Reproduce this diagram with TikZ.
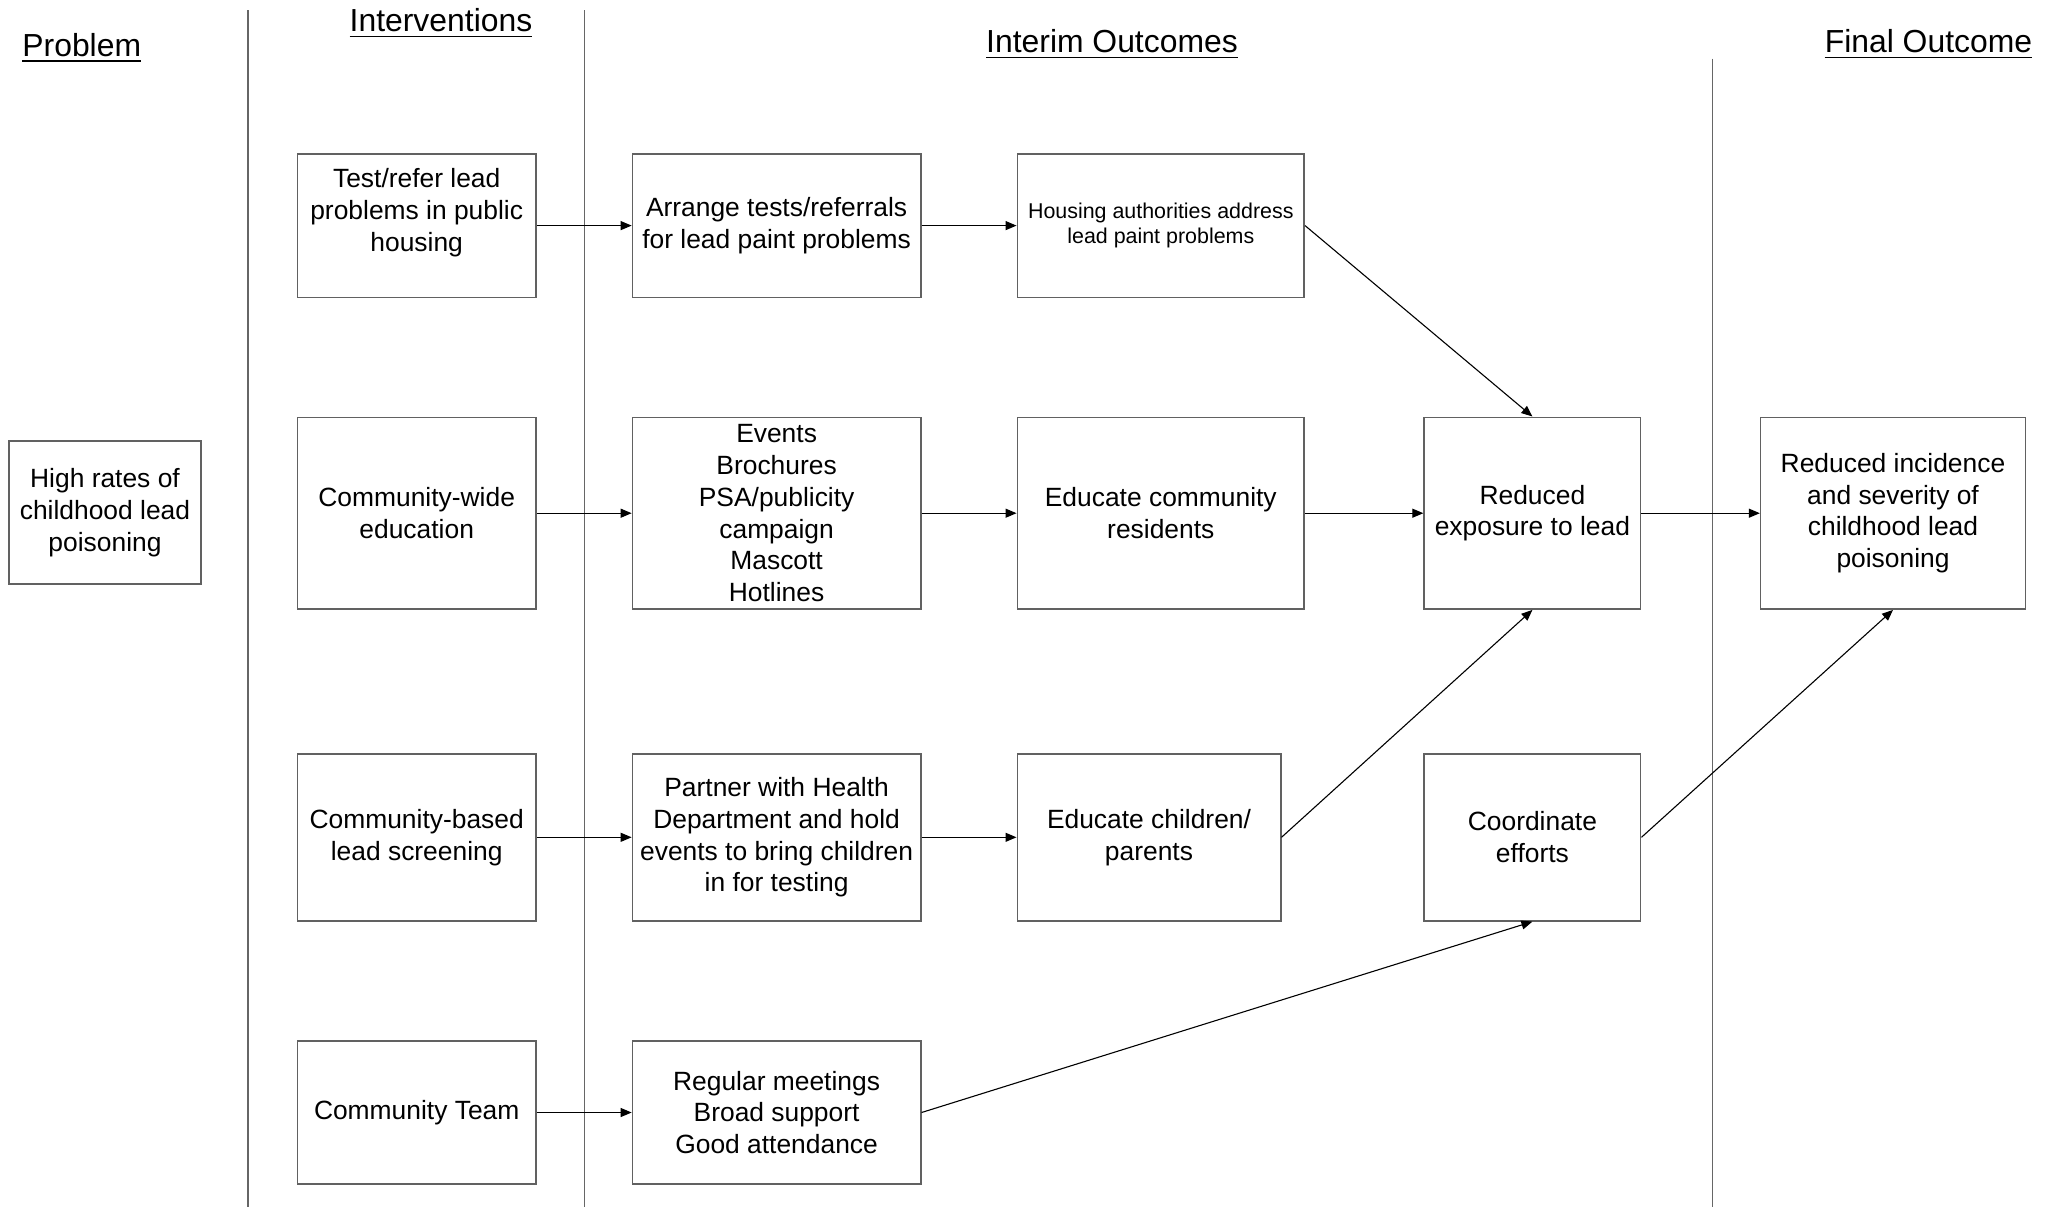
\documentclass[tikz,border=0pt]{standalone}
\usepackage{fontspec}
\setmainfont{Liberation Sans}
\usetikzlibrary{arrows.meta}
\begin{document}
\begin{tikzpicture}[x=1bp,y=-1bp,
  box/.style={draw=black!62, line width=1.6bp, inner sep=0pt, align=center, font=\fontsize{26.5}{32}\selectfont},
  smallbox/.style={box, font=\fontsize{21.5}{25}\selectfont},
  title/.style={inner sep=0pt, anchor=base west, font=\fontsize{32}{38}\selectfont},
  sepline/.style={draw=black!60, line width=1.6bp},
  arr/.style={draw=black, line width=1.1bp, -{Triangle[length=11bp,width=9bp]}},
  ulin/.style={line width=1.8bp}]
\useasboundingbox (0,0) rectangle (2045,1207);

% separators
\draw[sepline] (247.8,10.4) -- (247.8,1207);
\draw[sepline] (584.3,10.4) -- (584.3,1207);
\draw[sepline] (1712.4,58.7) -- (1712.4,1207);

% titles
\node[title] (tprob) at (22.2,56) {Problem};
\node[title] (tint) at (349.5,31.5) {Interventions};
\node[title] (tinterim) at (986,52.4) {Interim Outcomes};
\node[title] (tfinal) at (1824.6,52.4) {Final Outcome};
\foreach \t in {tprob,tint,tinterim,tfinal}
  \draw[ulin] ([yshift=-5bp]\t.base west) -- ([yshift=-5bp]\t.base east);

% problem
\node[box, minimum width=191.7bp, minimum height=143bp] (p) at (105,512.5) {High rates of\\childhood lead\\poisoning};

% interventions
\node[box, minimum width=238.6bp, minimum height=143.5bp] (a1) at (416.7,225.6) {Test/refer lead\\problems in public\\housing\\\mbox{}};
\node[box, minimum width=238.6bp, minimum height=191.8bp] (a2) at (416.7,513.2) {Community-wide\\education};
\node[box, minimum width=238.6bp, minimum height=167bp] (a3) at (416.7,837.3) {Community-based\\lead screening};
\node[box, minimum width=238.6bp, minimum height=143.4bp] (a4) at (416.7,1112.5) {Community Team};

% interim column 1
\node[box, minimum width=288.3bp, minimum height=143.5bp] (b1) at (776.6,225.6) {Arrange tests/referrals\\for lead paint problems};
\node[box, minimum width=288.3bp, minimum height=191.8bp] (b2) at (776.6,513.2) {Events\\Brochures\\PSA/publicity\\campaign\\Mascott\\Hotlines};
\node[box, minimum width=288.3bp, minimum height=167bp] (b3) at (776.6,837.3) {Partner with Health\\Department and hold\\events to bring children\\in for testing};
\node[box, minimum width=288.3bp, minimum height=143.4bp] (b4) at (776.6,1112.5) {Regular meetings\\Broad support\\Good attendance};

% interim column 2
\node[smallbox, minimum width=286.9bp, minimum height=143.5bp] (c1) at (1160.8,225.6) {Housing authorities address\\lead paint problems};
\node[box, minimum width=286.9bp, minimum height=191.8bp] (c2) at (1160.8,513.2) {Educate community\\residents};
\node[box, minimum width=263.4bp, minimum height=167bp] (c3) at (1149,837.3) {Educate children/\\parents};

% interim column 3
\node[box, minimum width=216.5bp, minimum height=191.8bp] (d1) at (1532.4,513.2) {Reduced\\exposure to lead};
\node[box, minimum width=216.5bp, minimum height=167bp] (d2) at (1532.4,837.3) {Coordinate\\efforts};

% final
\node[box, minimum width=264.7bp, minimum height=191.8bp] (e) at (1893,513.2) {Reduced incidence\\and severity of\\childhood lead\\poisoning};

% connectors
\draw[arr] (a1) -- (b1);
\draw[arr] (a2) -- (b2);
\draw[arr] (a3) -- (b3);
\draw[arr] (a4) -- (b4);
\draw[arr] (b1) -- (c1);
\draw[arr] (b2) -- (c2);
\draw[arr] (b3) -- (c3);
\draw[arr] (c1.east) -- (d1.north);
\draw[arr] (c2) -- (d1);
\draw[arr] (c3.east) -- (d1.south);
\draw[arr] (b4.east) -- (d2.south);
\draw[arr] (d1) -- (e);
\draw[arr] (d2.east) -- (e.south);
\end{tikzpicture}
\end{document}
